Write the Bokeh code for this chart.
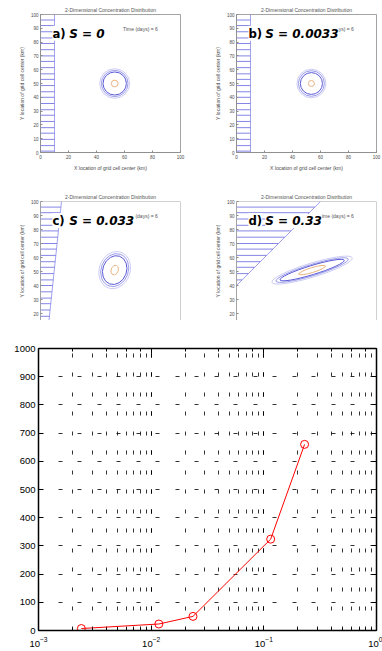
import numpy as np
from bokeh.plotting import figure
from bokeh.layouts import column, row
from bokeh.models import Range1d, Label, LinearAxis, LogAxis, FixedTicker, Span
from bokeh.embed import file_html
from bokeh.resources import INLINE

# ---------------- bottom chart data ----------------
s_values = [0.0024, 0.0117, 0.0235, 0.115, 0.23]
y_values = [7, 23, 50, 324, 660]
y_ticks = [0, 100, 200, 300, 400, 500, 600, 700, 800, 900, 1000]

# ---------------- panel data ----------------
panel_title = "2-Dimensional Concentration Distribution"
panel_tags = ["a)", "b)", "c)", "d)"]
panel_s_text = ["S = 0", "S = 0.0033", "S = 0.033", "S = 0.33"]
time_text = "Time (days) = 6"
x_label = "X location of grid cell center (km)"
y_label = "Y location of grid cell center (km)"
panel_x_ticks = [0, 20, 40, 60, 80, 100]
panel_y_ticks = [0, 10, 20, 30, 40, 50, 60, 70, 80, 90, 100]

plume_cx = [53, 53.5, 53, 54]
plume_cy = [50, 50, 51, 51]
ring_colors = ["#b4b4f0", "#8080e2", "#5a5ad6", "#e6aa70"]
ring_line_w = [0.7, 0.8, 1.0, 0.9]
ring_w = [[21.4, 19, 16.7, 4.8], [20.7, 18.5, 15.8, 4.3], [22, 19.5, 17, 5], [60, 54, 48, 20]]
ring_h = [[21.4, 19, 16.7, 4.8], [20.7, 18.5, 15.8, 4.3], [27, 24, 21, 7], [10, 8, 6.5, 3.5]]
ring_angle = [0, 0, -20, 17]

hatch_y = [96, 92, 87.5, 83, 79, 74.5, 70, 66, 61.5, 57, 53, 48.5, 44, 40,
           35.5, 31, 27, 22.5, 18, 14, 9.5, 5, 1]
boundary_x = [[10, 10], [10, 10], [4.5, 15], [0, 60]]
boundary_y = [[0, 100], [0, 100], [0, 100], [40, 100]]

GRAY = "#8c8c8c"
TXT = "#4a4a4a"
HATCH = "#6666e0"


def make_panel(i):
    top = i < 2
    left = i % 2 == 0
    H = 187 if top else 133
    bt = 14
    fh = 138 if top else 119
    y0 = 0 if top else 100 - fh / 1.4
    bl = 40 if left else 45
    br = 11 if left else 6
    p = figure(width=191, height=H, x_range=Range1d(0, 100), y_range=Range1d(y0, 100),
               min_border_left=bl, min_border_right=br, min_border_top=bt,
               min_border_bottom=H - bt - fh,
               x_axis_location="below" if top else None,
               output_backend="svg", toolbar_location=None, title=panel_title)
    p.title.align = "center"
    p.title.text_font_size = "5px"
    p.title.text_font_style = "normal"
    p.title.text_color = "#555555"
    p.title.standoff = 4
    p.grid.visible = False
    p.outline_line_color = GRAY if top else None
    p.outline_line_width = 0.8
    for ax in p.axis:
        ax.axis_line_color = GRAY
        ax.axis_line_width = 0.8
        ax.major_tick_in = 2
        ax.major_tick_out = 0
        ax.minor_tick_line_color = None
        ax.major_tick_line_color = GRAY
        ax.major_label_text_font_size = "4.5px"
        ax.major_label_text_color = TXT
        ax.major_label_standoff = 2
        ax.axis_label_text_font_size = "5px"
        ax.axis_label_text_font_style = "normal"
        ax.axis_label_text_color = TXT
        ax.axis_label_standoff = 3
    p.yaxis.ticker = FixedTicker(ticks=panel_y_ticks)
    p.yaxis.axis_label = y_label
    if top:
        p.xaxis.ticker = FixedTicker(ticks=panel_x_ticks)
        p.xaxis.axis_label = x_label
    else:
        p.add_layout(Span(location=100, dimension="width", line_color=GRAY, line_width=0.8))
        p.add_layout(Span(location=100, dimension="height", line_color=GRAY, line_width=0.8))

    # hatched boundary region
    bx, by = boundary_x[i], boundary_y[i]
    xs, ys = [], []
    for yv in hatch_y:
        if yv >= y0 and yv >= by[0]:
            xs.append([0, float(np.interp(yv, by, bx))])
            ys.append([yv, yv])
    p.multi_line(xs, ys, line_color=HATCH, line_width=0.8)
    p.line(bx, by, line_color="#7a7ae6", line_width=0.7)

    # concentration contours
    p.ellipse(x=[plume_cx[i]] * 4, y=[plume_cy[i]] * 4, width=ring_w[i], height=ring_h[i],
              angle=ring_angle[i], angle_units="deg", fill_color=None,
              line_color=ring_colors, line_width=ring_line_w)

    p.add_layout(Label(x=59, y=89.5, text=time_text, text_font_size="5px",
                       text_color="#555555", text_baseline="middle"))
    p.add_layout(Label(x=8.5, y=81, text=panel_tags[i],
                       text_font="DejaVu Sans Condensed",
                       text_font_style="bold", text_font_size="13px", text_color="black",
                       background_fill_color="white"))
    p.add_layout(Label(x=20.5, y=81, text=panel_s_text[i], text_font="DejaVu Sans",
                       text_font_style="bold italic", text_font_size="12px", text_color="black",
                       background_fill_color="white"))
    return p


panels = [make_panel(i) for i in range(4)]

# ---------------- bottom chart ----------------
m = figure(width=382, height=331, x_axis_type="log", x_range=Range1d(1e-3, 1),
           y_range=Range1d(0, 1000), min_border_left=38, min_border_right=6,
           min_border_top=28, min_border_bottom=21,
           output_backend="svg", toolbar_location=None)
m.outline_line_color = None
m.add_layout(LinearAxis(), "right")
m.add_layout(LogAxis(), "above")
m.yaxis.ticker = FixedTicker(ticks=y_ticks)
for ax in m.axis:
    ax.axis_line_color = "black"
    ax.axis_line_width = 1.5
    ax.major_tick_in = 5
    ax.major_tick_out = 0
    ax.minor_tick_in = 3
    ax.minor_tick_out = 0
    ax.major_tick_line_color = "black"
    ax.minor_tick_line_color = "black"
    ax.major_label_text_font = "Liberation Sans"
    ax.major_label_text_font_size = "9.5px"
    ax.major_label_text_color = "black"
    ax.major_label_standoff = 3
m.below[0].major_label_standoff = 6
for ax in (m.right[0], m.above[0]):
    ax.major_label_text_font_size = "1px"
    ax.major_label_text_color = None
    ax.major_label_standoff = 0

DASH = "4 15 4 16"
m.xgrid.grid_line_color = "black"
m.xgrid.grid_line_dash = DASH
m.xgrid.grid_line_dash_offset = 19
m.xgrid.grid_line_alpha = 0.8
m.xgrid.minor_grid_line_color = "black"
m.xgrid.minor_grid_line_dash = DASH
m.xgrid.minor_grid_line_dash_offset = 19
m.xgrid.minor_grid_line_alpha = 0.8
m.ygrid.grid_line_color = "black"
m.ygrid.grid_line_dash = DASH
m.ygrid.grid_line_dash_offset = 19
m.ygrid.grid_line_alpha = 0.8

m.line(s_values, y_values, line_color="red", line_width=1)
m.scatter(s_values, y_values, marker="circle", size=8, fill_color=None,
          line_color="red", line_width=1)

layout = column(row(panels[0], panels[1]), row(panels[2], panels[3]), m)
open("out.html", "w").write(file_html(layout, INLINE))
